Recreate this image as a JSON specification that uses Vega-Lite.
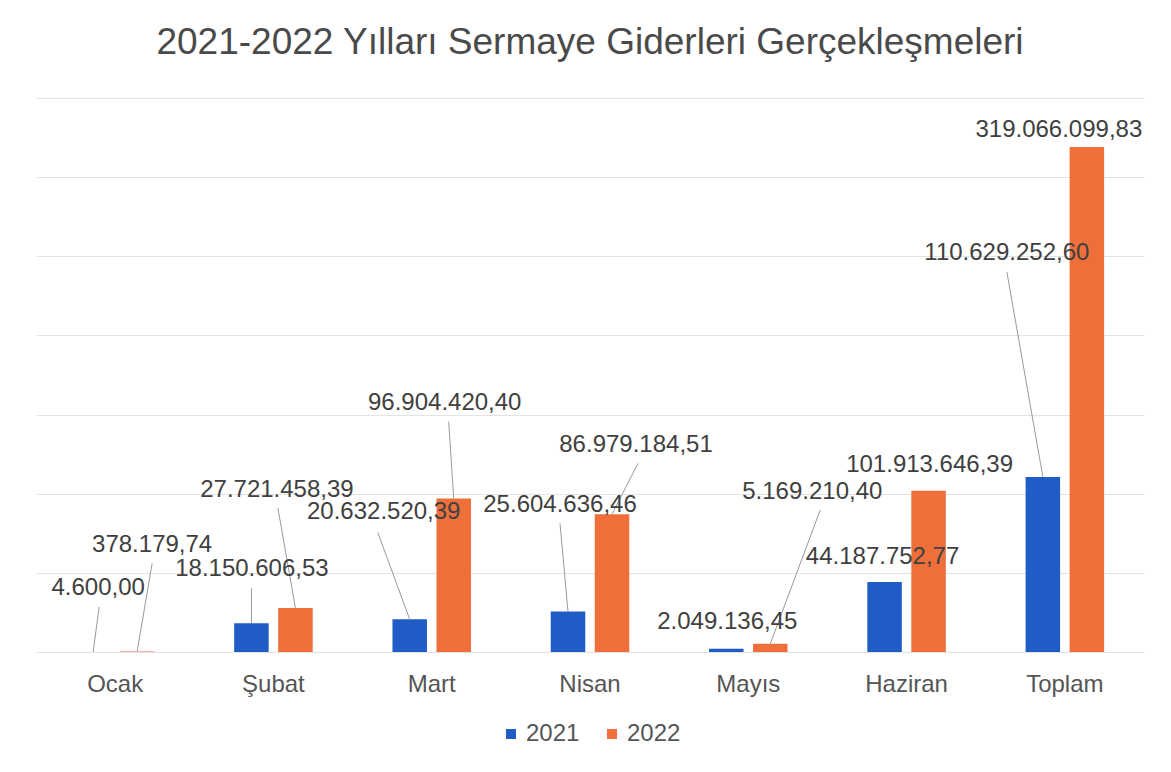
{
  "$schema": "https://vega.github.io/schema/vega-lite/v6.json",
  "autosize": {"type": "none"},
  "width": 1108,
  "height": 554,
  "padding": {"left": 36, "top": 98, "right": 27, "bottom": 120},
  "background": "white",
  "title": {
    "text": "2021-2022 Yılları Sermaye Giderleri Gerçekleşmeleri",
    "font": "Liberation Sans",
    "fontSize": 37,
    "fontWeight": "normal",
    "color": "#4a4a4a",
    "anchor": "middle",
    "baseline": "alphabetic",
    "offset": 7
  },
  "data": {
    "values": [
      {"month": "Ocak", "year": "2021", "value": 4600.00, "label": "4.600,00"},
      {"month": "Ocak", "year": "2022", "value": 378179.74, "label": "378.179,74"},
      {"month": "Şubat", "year": "2021", "value": 18150606.53, "label": "18.150.606,53"},
      {"month": "Şubat", "year": "2022", "value": 27721458.39, "label": "27.721.458,39"},
      {"month": "Mart", "year": "2021", "value": 20632520.39, "label": "20.632.520,39"},
      {"month": "Mart", "year": "2022", "value": 96904420.40, "label": "96.904.420,40"},
      {"month": "Nisan", "year": "2021", "value": 25604636.46, "label": "25.604.636,46"},
      {"month": "Nisan", "year": "2022", "value": 86979184.51, "label": "86.979.184,51"},
      {"month": "Mayıs", "year": "2021", "value": 2049136.45, "label": "2.049.136,45"},
      {"month": "Mayıs", "year": "2022", "value": 5169210.40, "label": "5.169.210,40"},
      {"month": "Haziran", "year": "2021", "value": 44187752.77, "label": "44.187.752,77"},
      {"month": "Haziran", "year": "2022", "value": 101913646.39, "label": "101.913.646,39"},
      {"month": "Toplam", "year": "2021", "value": 110629252.60, "label": "110.629.252,60"},
      {"month": "Toplam", "year": "2022", "value": 319066099.83, "label": "319.066.099,83"}
    ]
  },
  "encoding": {
    "x": {
      "field": "month",
      "type": "nominal",
      "sort": ["Ocak", "Şubat", "Mart", "Nisan", "Mayıs", "Haziran", "Toplam"],
      "scale": {"paddingInner": 0.504, "paddingOuter": 0.252},
      "axis": {
        "title": null,
        "labelAngle": 0,
        "labelFont": "Liberation Sans",
        "labelFontSize": 24,
        "labelColor": "#555555",
        "labelPadding": 20,
        "ticks": false,
        "tickSize": 0,
        "domain": false
      }
    },
    "y": {
      "field": "value",
      "type": "quantitative",
      "scale": {"domain": [0, 350000000], "nice": false},
      "axis": {
        "title": null,
        "labels": false,
        "ticks": false,
        "domain": false,
        "grid": true,
        "gridColor": "#e3e3e3",
        "values": [0, 50000000, 100000000, 150000000, 200000000, 250000000, 300000000, 350000000]
      }
    }
  },
  "layer": [
    {
      "mark": {"type": "bar"},
      "encoding": {
        "xOffset": {"field": "year", "type": "nominal", "scale": {"paddingInner": 0.216, "paddingOuter": 0}},
        "color": {
          "field": "year",
          "type": "nominal",
          "scale": {"domain": ["2021", "2022"], "range": ["#1f5cc6", "#ef6f3b"]},
          "legend": {
            "title": null,
            "orient": "bottom",
            "direction": "horizontal",
            "symbolType": "square",
            "symbolSize": 100,
            "symbolStrokeWidth": 0,
            "labelFont": "Liberation Sans",
            "labelFontSize": 24,
            "labelColor": "#555555",
            "labelOffset": 3,
            "columnPadding": 20,
            "offset": 26
          }
        }
      }
    },
    {
      "transform": [{"filter": "datum.month==='Ocak'&&datum.year==='2021'"}],
      "mark": {"type": "rule", "color": "#9a9a9a", "strokeWidth": 1, "xOffset": -22, "x2Offset": -16, "y2Offset": -45},
      "encoding": {"x2": {"field": "month"}, "y2": {"field": "value"}}
    },
    {
      "transform": [{"filter": "datum.month==='Ocak'&&datum.year==='2022'"}],
      "mark": {"type": "rule", "color": "#9a9a9a", "strokeWidth": 1, "xOffset": 22, "x2Offset": 37, "y2Offset": -88},
      "encoding": {"x2": {"field": "month"}, "y2": {"field": "value"}}
    },
    {
      "transform": [{"filter": "datum.month==='Şubat'&&datum.year==='2021'"}],
      "mark": {"type": "rule", "color": "#9a9a9a", "strokeWidth": 1, "xOffset": -22, "x2Offset": -22, "y2Offset": -35},
      "encoding": {"x2": {"field": "month"}, "y2": {"field": "value"}}
    },
    {
      "transform": [{"filter": "datum.month==='Şubat'&&datum.year==='2022'"}],
      "mark": {"type": "rule", "color": "#9a9a9a", "strokeWidth": 1, "xOffset": 22, "x2Offset": 4.5, "y2Offset": -100},
      "encoding": {"x2": {"field": "month"}, "y2": {"field": "value"}}
    },
    {
      "transform": [{"filter": "datum.month==='Mart'&&datum.year==='2021'"}],
      "mark": {"type": "rule", "color": "#9a9a9a", "strokeWidth": 1, "xOffset": -22, "x2Offset": -54, "y2Offset": -87},
      "encoding": {"x2": {"field": "month"}, "y2": {"field": "value"}}
    },
    {
      "transform": [{"filter": "datum.month==='Mart'&&datum.year==='2022'"}],
      "mark": {"type": "rule", "color": "#9a9a9a", "strokeWidth": 1, "xOffset": 22, "x2Offset": 17, "y2Offset": -77},
      "encoding": {"x2": {"field": "month"}, "y2": {"field": "value"}}
    },
    {
      "transform": [{"filter": "datum.month==='Nisan'&&datum.year==='2021'"}],
      "mark": {"type": "rule", "color": "#9a9a9a", "strokeWidth": 1, "xOffset": -22, "x2Offset": -30, "y2Offset": -88},
      "encoding": {"x2": {"field": "month"}, "y2": {"field": "value"}}
    },
    {
      "transform": [{"filter": "datum.month==='Nisan'&&datum.year==='2022'"}],
      "mark": {"type": "rule", "color": "#9a9a9a", "strokeWidth": 1, "xOffset": 22, "x2Offset": 48, "y2Offset": -51},
      "encoding": {"x2": {"field": "month"}, "y2": {"field": "value"}}
    },
    {
      "transform": [{"filter": "datum.month==='Mayıs'&&datum.year==='2022'"}],
      "mark": {"type": "rule", "color": "#9a9a9a", "strokeWidth": 1, "xOffset": 22, "x2Offset": 72, "y2Offset": -134},
      "encoding": {"x2": {"field": "month"}, "y2": {"field": "value"}}
    },
    {
      "transform": [{"filter": "datum.month==='Toplam'&&datum.year==='2021'"}],
      "mark": {"type": "rule", "color": "#9a9a9a", "strokeWidth": 1, "xOffset": -22, "x2Offset": -58, "y2Offset": -205},
      "encoding": {"x2": {"field": "month"}, "y2": {"field": "value"}}
    },
    {
      "transform": [{"filter": "datum.month==='Ocak'&&datum.year==='2021'"}],
      "mark": {"type": "text", "dx": -17, "dy": -64},
      "encoding": {"text": {"field": "label"}}
    },
    {
      "transform": [{"filter": "datum.month==='Ocak'&&datum.year==='2022'"}],
      "mark": {"type": "text", "dx": 37, "dy": -106},
      "encoding": {"text": {"field": "label"}}
    },
    {
      "transform": [{"filter": "datum.month==='Şubat'&&datum.year==='2021'"}],
      "mark": {"type": "text", "dx": -21.5, "dy": -54},
      "encoding": {"text": {"field": "label"}}
    },
    {
      "transform": [{"filter": "datum.month==='Şubat'&&datum.year==='2022'"}],
      "mark": {"type": "text", "dx": 3.5, "dy": -118},
      "encoding": {"text": {"field": "label"}}
    },
    {
      "transform": [{"filter": "datum.month==='Mart'&&datum.year==='2021'"}],
      "mark": {"type": "text", "dx": -48, "dy": -107},
      "encoding": {"text": {"field": "label"}}
    },
    {
      "transform": [{"filter": "datum.month==='Mart'&&datum.year==='2022'"}],
      "mark": {"type": "text", "dx": 13, "dy": -96},
      "encoding": {"text": {"field": "label"}}
    },
    {
      "transform": [{"filter": "datum.month==='Nisan'&&datum.year==='2021'"}],
      "mark": {"type": "text", "dx": -30, "dy": -106.5},
      "encoding": {"text": {"field": "label"}}
    },
    {
      "transform": [{"filter": "datum.month==='Nisan'&&datum.year==='2022'"}],
      "mark": {"type": "text", "dx": 46, "dy": -69},
      "encoding": {"text": {"field": "label"}}
    },
    {
      "transform": [{"filter": "datum.month==='Mayıs'&&datum.year==='2021'"}],
      "mark": {"type": "text", "dx": -21, "dy": -27},
      "encoding": {"text": {"field": "label"}}
    },
    {
      "transform": [{"filter": "datum.month==='Mayıs'&&datum.year==='2022'"}],
      "mark": {"type": "text", "dx": 64, "dy": -152},
      "encoding": {"text": {"field": "label"}}
    },
    {
      "transform": [{"filter": "datum.month==='Haziran'&&datum.year==='2021'"}],
      "mark": {"type": "text", "dx": -24, "dy": -25},
      "encoding": {"text": {"field": "label"}}
    },
    {
      "transform": [{"filter": "datum.month==='Haziran'&&datum.year==='2022'"}],
      "mark": {"type": "text", "dx": 23, "dy": -26},
      "encoding": {"text": {"field": "label"}}
    },
    {
      "transform": [{"filter": "datum.month==='Toplam'&&datum.year==='2021'"}],
      "mark": {"type": "text", "dx": -58, "dy": -224},
      "encoding": {"text": {"field": "label"}}
    },
    {
      "transform": [{"filter": "datum.month==='Toplam'&&datum.year==='2022'"}],
      "mark": {"type": "text", "dx": -6, "dy": -17},
      "encoding": {"text": {"field": "label"}}
    }
  ],
  "config": {
    "view": {"stroke": null},
    "legend": {"layout": {"bottom": {"anchor": "middle"}}},
    "text": {"font": "Liberation Sans", "fontSize": 24, "color": "#404040", "align": "center", "baseline": "middle"}
  }
}
